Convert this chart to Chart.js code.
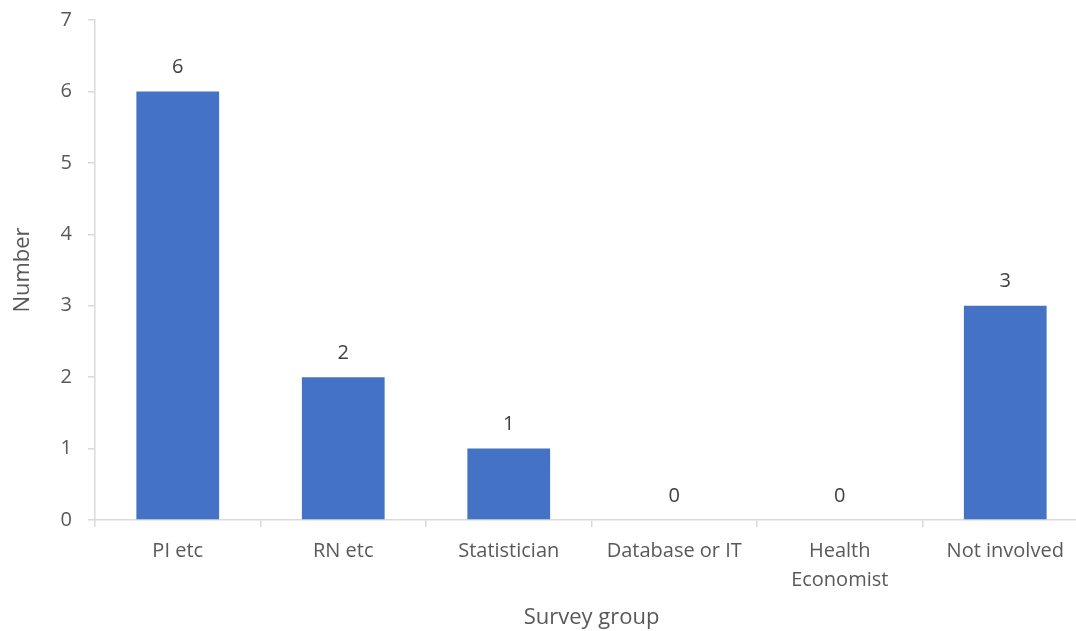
<!DOCTYPE html>
<html>
<head>
<meta charset="utf-8">
<script src="https://cdn.jsdelivr.net/npm/chart.js@4/dist/chart.umd.min.js"></script>
<style>
  html, body { margin: 0; padding: 0; background: #fff; overflow: hidden; }
  #wrap { width: 1090px; height: 631px; position: relative; }
</style>
</head>
<body>
<div id="wrap"><canvas id="chart"></canvas></div>
<script>
const categories = ["PI etc", "RN etc", "Statistician", "Database or IT", ["Health", "Economist"], "Not involved"];
const counts = [6, 2, 1, 0, 0, 3];
const yTicks = [0, 1, 2, 3, 4, 5, 6, 7];

const axisGrey = "#d9d9d9";
const textGrey = "#595959";
const fontFamily = "'Open Sans', sans-serif";

// value labels above each bar
const barLabels = {
  id: "barLabels",
  afterDatasetsDraw(chart) {
    const ctx = chart.ctx;
    const meta = chart.getDatasetMeta(0);
    ctx.save();
    ctx.font = "20px " + fontFamily;
    ctx.fillStyle = "#404040";
    ctx.textAlign = "center";
    ctx.textBaseline = "middle";
    meta.data.forEach((bar, i) => {
      ctx.fillText(String(counts[i]), bar.x, bar.y - 24);
    });
    ctx.restore();
  }
};

new Chart(document.getElementById("chart").getContext("2d"), {
  type: "bar",
  data: {
    labels: categories,
    datasets: [{
      label: "Number",
      data: counts,
      backgroundColor: "#4472c4",
      barPercentage: 0.5,
      categoryPercentage: 1.0
    }]
  },
  options: {
    responsive: true,
    maintainAspectRatio: false,
    animation: false,
    layout: { padding: { top: 20, right: 2, left: 0, bottom: 0 } },
    plugins: { legend: { display: false }, tooltip: { enabled: false } },
    scales: {
      x: {
        afterFit: (s) => { s.height = 111; },
        border: { color: axisGrey, width: 1.5 },
        grid: { offset: true, drawOnChartArea: false, drawTicks: true, tickLength: 7, color: axisGrey, lineWidth: 1.5 },
        ticks: { color: textGrey, font: { family: fontFamily, size: 20, lineHeight: 1.45 }, padding: 10, maxRotation: 0, autoSkip: false },
        title: { display: true, text: "Survey group", color: textGrey, font: { family: fontFamily, size: 22 }, padding: { top: 10, bottom: 0 } }
      },
      y: {
        min: 0,
        max: 7,
        afterFit: (s) => { s.width = 95; s.paddingTop = 0; s.paddingBottom = 0; },
        afterBuildTicks: (s) => { s.ticks = yTicks.map(v => ({ value: v })); },
        border: { color: axisGrey, width: 1.5 },
        grid: { drawOnChartArea: false, drawTicks: true, tickLength: 7, color: axisGrey, lineWidth: 1.5 },
        ticks: { color: textGrey, font: { family: fontFamily, size: 20 }, padding: 16 },
        title: { display: true, text: "Number", color: textGrey, font: { family: fontFamily, size: 22 }, padding: { top: 10, bottom: 0 } }
      }
    }
  },
  plugins: [barLabels]
});
</script>
</body>
</html>
